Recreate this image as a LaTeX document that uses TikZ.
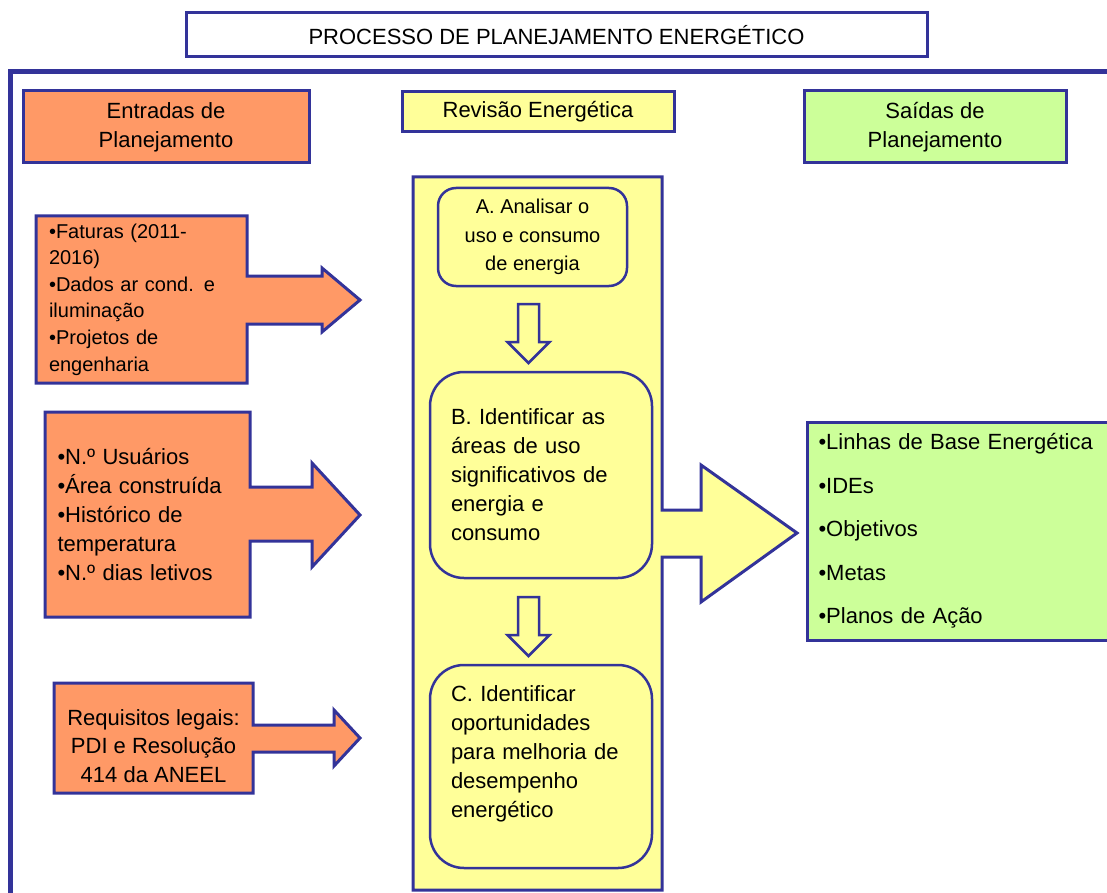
\documentclass[tikz,border=0pt]{standalone}
\usepackage{fontspec}
\setmainfont{Liberation Sans}
\usetikzlibrary{positioning,backgrounds}
\definecolor{frameblue}{RGB}{51,51,153}
\definecolor{inorange}{RGB}{255,153,102}
\definecolor{revyellow}{RGB}{255,255,153}
\definecolor{outgreen}{RGB}{204,255,153}
\tikzset{
  headbox/.style={draw=frameblue,line width=3pt,align=center,inner sep=0pt},
  stepbox/.style={draw=frameblue,line width=2.5pt,fill=revyellow,rounded corners=#1,inner sep=0pt},
  blockshape/.style={draw=frameblue,line width=3pt,line join=miter},
  intext/.style={inner sep=0pt,align=left}
}
\newcommand{\bodyfont}{\fontsize{22}{29}\selectfont}

\begin{document}
\begin{tikzpicture}[x=1pt,y=-1pt,every node/.style={font=\bodyfont}]
\useasboundingbox (0,0) rectangle (1107,893);
% \draw[help lines,step=50] (0,0) grid (1107,893);
\draw[frameblue,line width=5pt] (10.5,900) -- (10.5,71.5) -- (1115,71.5);
%
\node (title) [headbox,fill=white,minimum width=741pt,minimum height=44pt] at (556.5,35) {PROCESSO DE PLANEJAMENTO ENERGÉTICO};
\node (entr) [headbox,fill=inorange,minimum width=286pt,minimum height=72pt] at (166,127) {Entradas de\\Planejamento};
\node (rev) [headbox,fill=revyellow,minimum width=272pt,minimum height=40pt] at (538,112) {Revisão Energética};
\node (said) [headbox,fill=outgreen,minimum width=262pt,minimum height=72pt] at (935,127) {Saídas de\\Planejamento};
%
\node (in1) [intext,font=\fontsize{20}{26.6}\selectfont,text width=185pt,minimum width=211pt,minimum height=167pt] at (141.5,299.5) {•Faturas (2011-\\2016)\\•Dados ar cond. e\\iluminação\\•Projetos de\\engenharia};
\node (in2) [intext,font=\fontsize{22}{29.2}\selectfont,text width=180pt,minimum width=205pt,minimum height=205pt] at (147.5,514.5) {•N.º Usuários\\•Área construída\\•Histórico de\\temperatura\\•N.º dias letivos};
\node (in3) [intext,align=center,font=\fontsize{22}{28.5}\selectfont,minimum width=199pt,minimum height=110pt] at (153.5,746) {Requisitos legais:\\PDI e Resolução\\414 da ANEEL};
\coordinate (tip1) at (360,300);
\coordinate (tip2) at (360,515);
\coordinate (tip3) at (360,738);
\coordinate (tipout) at (797,533);
%
\begin{pgfonlayer}{background}
\draw[blockshape,fill=inorange] (36,216) -- (247,216) -- (247,276) -- (322,276) -- (322,268) -- (tip1) -- (322,332) -- (322,324) -- (247,324) -- (247,383) -- (36,383) -- cycle;
\draw[blockshape,fill=inorange] (45,412) -- (250,412) -- (250,487) -- (312,487) -- (312,463) -- (tip2) -- (312,567) -- (312,541) -- (250,541) -- (250,617) -- (45,617) -- cycle;
\draw[blockshape,fill=inorange] (54,683) -- (253,683) -- (253,725) -- (334,725) -- (334,710) -- (tip3) -- (334,766) -- (334,752) -- (253,752) -- (253,793) -- (54,793) -- cycle;
\draw[blockshape,fill=revyellow] (413,177) -- (662,177) -- (662,510) -- (701,510) -- (701,465) -- (tipout) -- (701,602) -- (701,557) -- (662,557) -- (662,890) -- (413,890) -- cycle;
\end{pgfonlayer}
%
\node (abox) [stepbox=18pt,minimum width=189pt,minimum height=98pt,align=center,font=\fontsize{20}{28.5}\selectfont] at (532.5,237) {A. Analisar o\\uso e consumo\\de energia};
\node (bbox) [stepbox=34pt,minimum width=222pt,minimum height=206pt,text width=180pt,align=left] at (541,475) {B. Identificar as\\áreas de uso\\significativos de\\energia e\\consumo};
\node (cbox) [stepbox=34pt,minimum width=222pt,minimum height=203pt,text width=180pt,align=left] at (541,766.5) {C. Identificar\\oportunidades\\para melhoria de\\desempenho\\energético\\\mbox{}};
%
\coordinate (d1) at (528.5,304);
\coordinate (d2) at (528.5,597);
\draw[blockshape,line width=2.5pt,fill=revyellow] (d1) ++(-10.5,0) -- ++(21,0) -- ++(0,38) -- ++(10.5,0) -- ++(-21,21) -- ++(-21,-21) -- ++(10.5,0) -- cycle;
\draw[blockshape,line width=2.5pt,fill=revyellow] (d2) ++(-10.5,0) -- ++(21,0) -- ++(0,38) -- ++(10.5,0) -- ++(-21,21) -- ++(-21,-21) -- ++(10.5,0) -- cycle;
%
\node (outs) [draw=frameblue,line width=3pt,fill=outgreen,anchor=west,inner xsep=11pt,inner ysep=0pt,align=left,text width=300pt,minimum height=218pt,font=\fontsize{22}{43.5}\selectfont] at (806,531) {•Linhas de Base Energética\\•IDEs\\•Objetivos\\•Metas\\•Planos de Ação};
\end{tikzpicture}
\end{document}
